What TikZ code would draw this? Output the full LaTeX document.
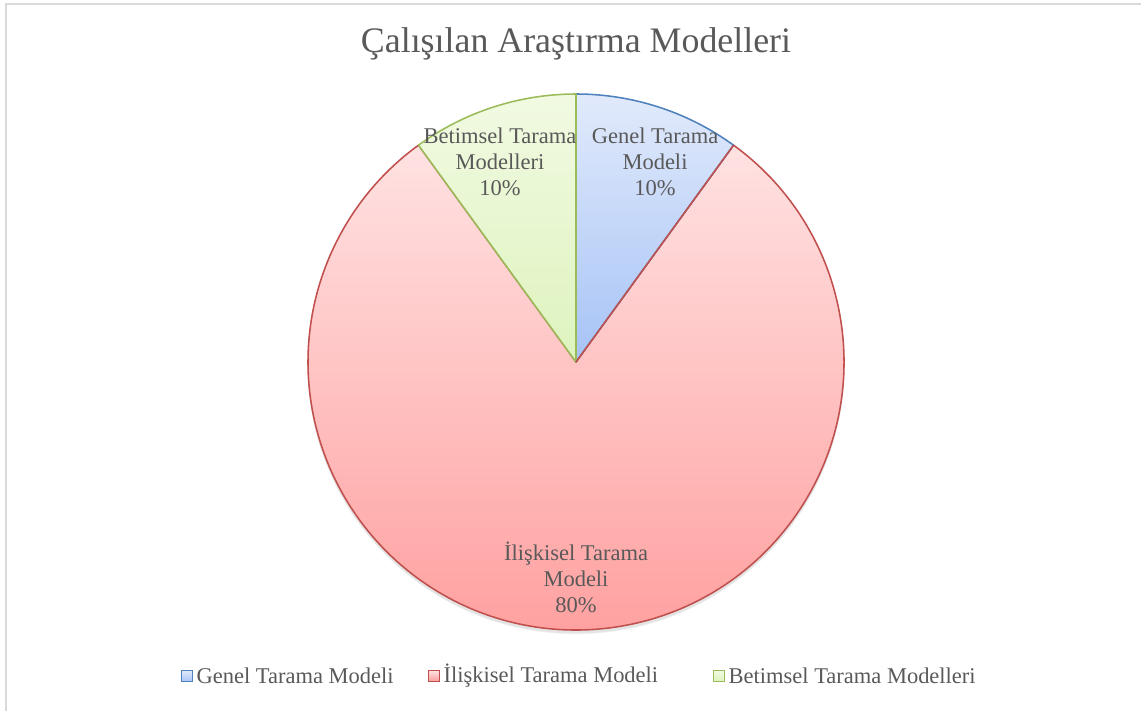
\documentclass[tikz,border=0pt]{standalone}
\usepackage{fontspec}
\setmainfont{Liberation Serif}
\usepackage{tikz}
\usetikzlibrary{positioning}
\usepackage{xcolor}

\definecolor{txtgray}{HTML}{595959}
\definecolor{framegray}{HTML}{D9D9D9}
\definecolor{genelline}{HTML}{4F81BD}
\definecolor{iliskiline}{HTML}{C0504D}
\definecolor{betimline}{HTML}{9BBB59}

\tikzset{
    charttext/.style={text=txtgray, font=\fontsize{16}{18.5}\selectfont, align=center, inner sep=0pt},
    sliceline/.style={line width=1.1pt, line join=round},
    legendbox/.style={draw, minimum size=0.28cm, inner sep=0pt, line width=0.8pt},
    legendtext/.style={text=txtgray, font=\fontsize{16}{19}\selectfont, inner sep=0pt, anchor=west}
}

\begin{document}
\begin{tikzpicture}
                \useasboundingbox (0,0) rectangle (28.525,17.775);
                % chart frame, only top and left are seen
                \draw[framegray, line width=0.8pt] (0.15,0) -- (0.15,17.675) -- (28.525,17.675);

                \node[charttext, font=\fontsize{25.5}{30}\selectfont] (title) at (14.4,16.675) {Çalışılan Araştırma Modelleri};

                % shadow
                \fill[black, opacity=0.06] (14.4,8.66) circle (6.72);
                \fill[black, opacity=0.05] (14.4,8.62) circle (6.70);

                \coordinate (c) at (14.4,8.725);
                % slices
                \shade[top color={rgb,255:red,255;green,226;blue,226}, bottom color={rgb,255:red,255;green,156;blue,156}]
                    (c) -- ++(54:6.7) arc (54:-234:6.7) -- cycle;
                \draw[iliskiline, sliceline] (c) -- ++(54:6.7) arc (54:-234:6.7) -- cycle;
                \shade[top color={rgb,255:red,225;green,234;blue,251}, bottom color={rgb,255:red,166;green,195;blue,246}]
                    (c) -- ++(90:6.7) arc (90:54:6.7) -- cycle;
                \draw[genelline, sliceline] (c) -- ++(90:6.7) arc (90:54:6.7) -- cycle;
                \shade[top color={rgb,255:red,241;green,250;blue,226}, bottom color={rgb,255:red,222;green,243;blue,190}]
                    (c) -- ++(90:6.7) arc (90:126:6.7) -- cycle;
                \draw[betimline, sliceline] (c) -- ++(90:6.7) arc (90:126:6.7) -- cycle;
                \draw[iliskiline, sliceline] (c) -- ++(54:6.7);

                % data labels
                \node[charttext] (genel) at (16.375,13.725) {Genel Tarama\\Modeli\\10\%};
                \node[charttext] (betim) at (12.5,13.725) {Betimsel Tarama\\Modelleri\\10\%};
                \node[charttext] (iliski) at (14.4,3.35) {İlişkisel Tarama\\Modeli\\80\%};

                % legend
                \node[legendbox, draw=genelline, top color={rgb,255:red,225;green,234;blue,251}, bottom color={rgb,255:red,166;green,195;blue,246}] (lgenel) at (4.675,0.875) {};
                \node[legendtext, right=0.08cm of lgenel] (tgenel) {Genel Tarama Modeli};
                \node[legendbox, draw=iliskiline, top color={rgb,255:red,255;green,226;blue,226}, bottom color={rgb,255:red,255;green,156;blue,156}] (liliski) at (10.85,0.875) {};
                \node[legendtext, right=0.08cm of liliski] (tiliski) {İlişkisel Tarama Modeli};
                \node[legendbox, draw=betimline, top color={rgb,255:red,241;green,250;blue,226}, bottom color={rgb,255:red,222;green,243;blue,190}] (lbetim) at (17.975,0.875) {};
                \node[legendtext, right=0.08cm of lbetim] (tbetim) {Betimsel Tarama Modelleri};

            \end{tikzpicture}
\end{document}
